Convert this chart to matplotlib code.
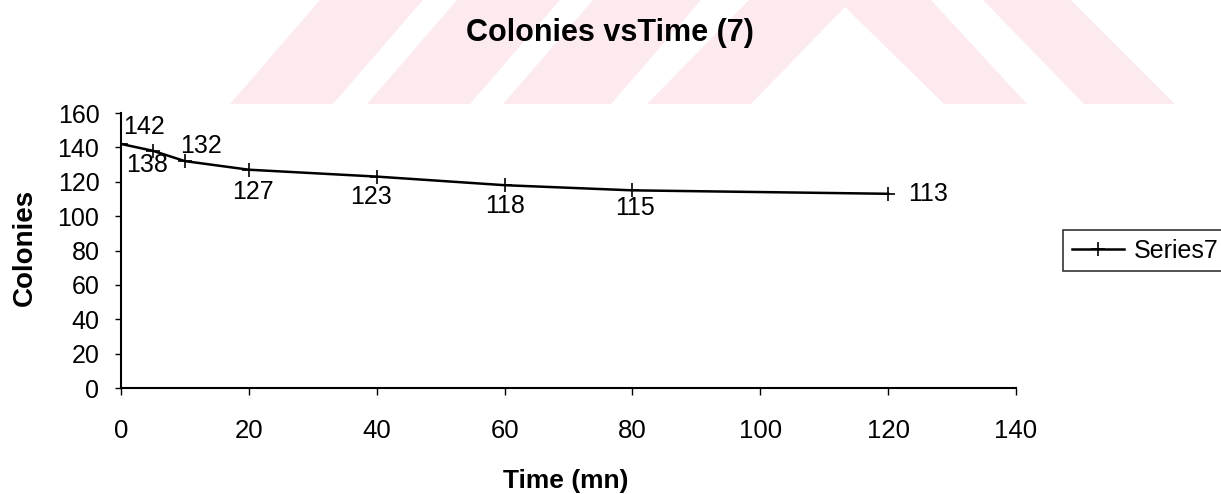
import matplotlib
matplotlib.use("Agg")
import matplotlib.pyplot as plt
from matplotlib.patches import Polygon

# ---- data ----
time_mn = [0, 5, 10, 20, 40, 60, 80, 120]
colonies = [142, 138, 132, 127, 123, 118, 115, 113]
series_name = "Series7"
x_ticks = [0, 20, 40, 60, 80, 100, 120, 140]
y_ticks = [0, 20, 40, 60, 80, 100, 120, 140, 160]
title = "Colonies vsTime (7)"
x_label = "Time (mn)"
y_label = "Colonies"

# label placement per point (offset in points, label centred)
label_offsets = [(16.5, 12), (-4, -10.5), (11.5, 11), (3, -16), (-4, -15), (0, -15), (1.5, -13), (29, 0)]

plt.rcParams['font.family'] = ['Liberation Sans', 'DejaVu Sans']

W, H = 1221, 494
fig = plt.figure(figsize=(W / 100, H / 100), dpi=100)
fig.patch.set_facecolor("white")


def px(x, y):
    return (x / W, 1 - y / H)


# faint background watermark stripes
wm_color = "#fdeaee"
wm_shapes = [
    [(230, 104), (320, 0), (423, 0), (333, 104)],
    [(367, 104), (457, 0), (560, 0), (470, 104)],
    [(503, 104), (593, 0), (701, 0), (611, 104)],
    [(647, 104), (749, 0), (931, 0), (1027, 104), (944, 104), (845, 7), (751, 104)],
    [(1084, 104), (983, 0), (1071, 0), (1175, 104)],
]
for shp in wm_shapes:
    fig.add_artist(Polygon([px(*p) for p in shp], closed=True, transform=fig.transFigure,
                           facecolor=wm_color, edgecolor="none", zorder=0))

ax = fig.add_axes([121 / W, 1 - 388 / H, (1016 - 121) / W, (388 - 113) / H])
ax.set_facecolor("none")
ax.set_xlim(0, 140)
ax.set_ylim(0, 160)

ax.plot(time_mn, colonies, color="black", linewidth=1.8, marker="+",
        markersize=10, markeredgewidth=1.2, label=series_name, zorder=3)

for xv, yv, off in zip(time_mn, colonies, label_offsets):
    ax.annotate(str(yv), (xv, yv), xytext=off, textcoords="offset points",
                ha="center", va="center", fontsize=18, color="black")

ax.set_xticks(x_ticks)
ax.set_yticks(y_ticks)
ax.tick_params(axis="x", direction="out", length=5, width=1, pad=17, labelsize=18.5)
ax.tick_params(axis="y", direction="out", length=4.5, width=1, pad=11, labelsize=18)
for s in ["top", "right"]:
    ax.spines[s].set_visible(False)
for s in ["left", "bottom"]:
    ax.spines[s].set_linewidth(1.5)
    ax.spines[s].set_color("black")

fig.text(610 / W, 1 - 33 / H, title, ha="center", va="center",
         fontsize=22, fontweight="bold")
fig.text(566 / W, 1 - 481 / H, x_label, ha="center", va="center",
         fontsize=19, fontweight="bold")
fig.text(25 / W, 1 - 247 / H, y_label, ha="center", va="center",
         fontsize=20, fontweight="bold", rotation=90)

leg = fig.legend(loc="center left", bbox_to_anchor=(1063 / W, 1 - 250.5 / H),
                 bbox_transform=fig.transFigure, frameon=True, fancybox=False,
                 edgecolor="black", fontsize=18, borderpad=0.35, handlelength=2.1,
                 handletextpad=0.4, borderaxespad=0)
leg.get_frame().set_linewidth(1.2)

fig.savefig("out.png", dpi=100)
